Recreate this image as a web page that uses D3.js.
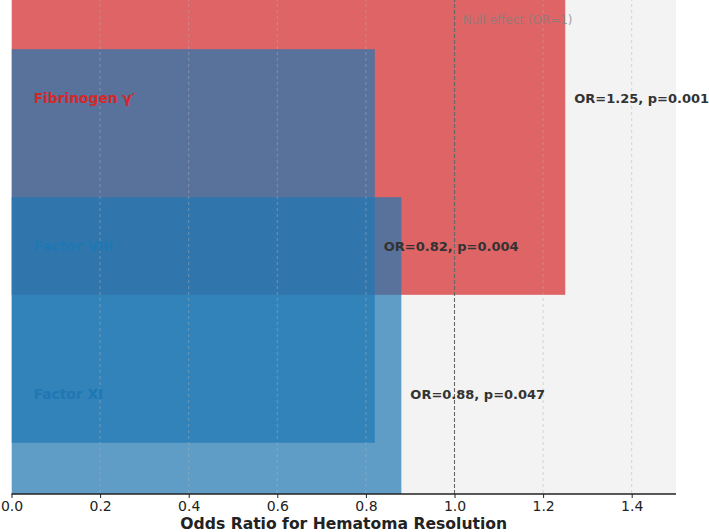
<!DOCTYPE html>
<html>
<head>
<meta charset="utf-8">
<script src="https://cdn.jsdelivr.net/npm/d3@7"></script>
<style>
  body { margin: 0; background: #fff; }
  svg { display: block; font-family: "DejaVu Sans", sans-serif; }
  .x-axis text { font-size: 14px; fill: #222; }
  .x-axis path, .x-axis line { stroke: #222; }
</style>
</head>
<body>
<svg id="chart" width="709" height="532"></svg>
<script>
// data
const factors = ['Fibrinogen γ′', 'Factor VIII', 'Factor XI'];
const oddsRatios = [1.25, 0.82, 0.88];
const pValues = ['0.001', '0.004', '0.047'];
const barColors = ['#d62728', '#1f77b4', '#1f77b4'];
const xTicks = [0.0, 0.2, 0.4, 0.6, 0.8, 1.0, 1.2, 1.4];

const svg = d3.select('#chart');
const DIM = { left: 11.5, right: 676, top: -2, bottom: 494 };

const x = d3.scaleLinear().domain([0, 1.5]).range([DIM.left, DIM.right]);
const y = d3.scalePoint().domain(factors).range([DIM.top, DIM.bottom]).padding(0.676);
const barH = y.step() * 2.66;

svg.append('defs').append('clipPath').attr('id', 'plot-clip')
    .append('rect')
    .attr('x', DIM.left).attr('y', DIM.top)
    .attr('width', DIM.right - DIM.left).attr('height', DIM.bottom - DIM.top);

// plot background
svg.append('rect')
    .attr('x', DIM.left).attr('y', DIM.top)
    .attr('width', DIM.right - DIM.left).attr('height', DIM.bottom - DIM.top)
    .attr('fill', '#f3f3f3');

const plot = svg.append('g').attr('clip-path', 'url(#plot-clip)');

// bars (deliberately tall, overlapping as in the source)
plot.selectAll('.bar')
    .data(factors)
    .join('rect')
    .attr('class', 'bar')
    .attr('x', x(0))
    .attr('y', d => y(d) - barH / 2)
    .attr('width', (d, i) => x(oddsRatios[i]) - x(0))
    .attr('height', barH)
    .attr('fill', (d, i) => barColors[i])
    .attr('fill-opacity', 0.7);

// grid
plot.selectAll('.grid')
    .data(xTicks.slice(1).filter(t => t !== 1.0))
    .join('line')
    .attr('class', 'grid')
    .attr('x1', d => x(d)).attr('x2', d => x(d))
    .attr('y1', DIM.top).attr('y2', DIM.bottom)
    .attr('stroke', '#b0b0b0')
    .attr('stroke-opacity', 0.6)
    .attr('stroke-width', 0.8)
    .attr('stroke-dasharray', '3,3');

// null effect reference
plot.append('line')
    .attr('x1', x(1)).attr('x2', x(1))
    .attr('y1', DIM.top).attr('y2', DIM.bottom)
    .attr('stroke', '#666')
    .attr('stroke-width', 1.1)
    .attr('stroke-dasharray', '4,2');

plot.append('text')
    .attr('x', x(1) + 8).attr('y', 24)
    .attr('font-size', 12)
    .attr('fill', '#808080')
    .attr('fill-opacity', 0.75)
    .text('Null effect (OR=1)');

// category labels inside bars
svg.selectAll('.cat-label')
    .data(factors)
    .join('text')
    .attr('class', 'cat-label')
    .attr('x', x(0.05))
    .attr('y', d => y(d))
    .attr('dy', '0.35em')
    .attr('font-size', 13.8)
    .attr('font-weight', 'bold')
    .attr('fill', (d, i) => barColors[i])
    .text(d => d);

// value labels
svg.selectAll('.val-label')
    .data(factors)
    .join('text')
    .attr('class', 'val-label')
    .attr('x', (d, i) => x(oddsRatios[i]) + 9)
    .attr('y', d => y(d))
    .attr('dy', '0.35em')
    .attr('font-size', 13)
    .attr('font-weight', 'bold')
    .attr('fill', '#333')
    .text((d, i) => `OR=${oddsRatios[i].toFixed(2)}, p=${pValues[i]}`);

// x axis
const xAxis = d3.axisBottom(x).tickValues(xTicks).tickFormat(d3.format('.1f')).tickSize(4).tickPadding(3);
const xg = svg.append('g')
    .attr('class', 'x-axis')
    .attr('transform', `translate(0, ${DIM.bottom})`)
    .call(xAxis);
xg.select('.domain').attr('stroke-width', 1.3).attr('d', `M${DIM.left},0H${DIM.right}`);
xg.selectAll('.tick line').attr('stroke-width', 1);
xg.selectAll('.tick text').attr('font-family', '"DejaVu Sans", sans-serif');

svg.append('text')
    .attr('x', (DIM.left + DIM.right) / 2)
    .attr('y', 529)
    .attr('text-anchor', 'middle')
    .attr('font-size', 15.6)
    .attr('font-weight', 'bold')
    .attr('fill', '#222')
    .text('Odds Ratio for Hematoma Resolution');
</script>
</body>
</html>
